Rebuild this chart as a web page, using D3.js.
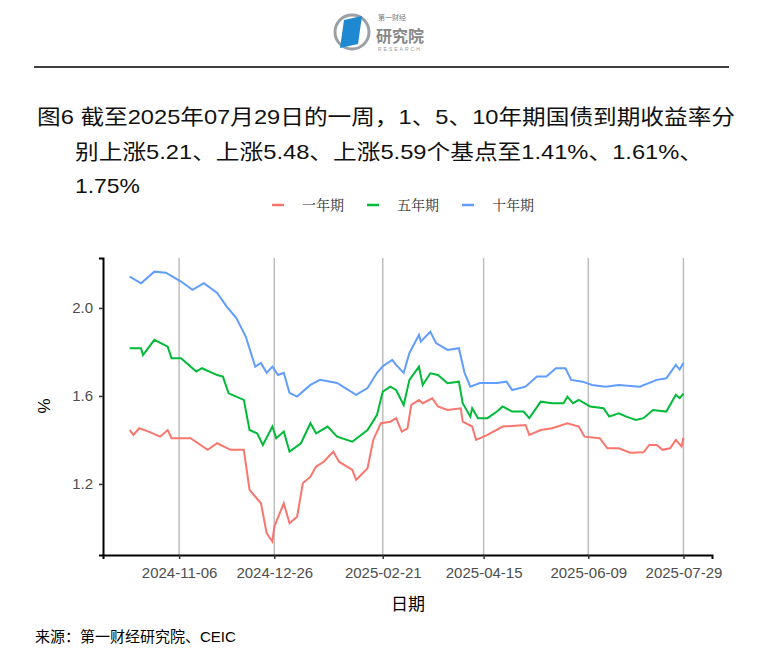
<!DOCTYPE html>
<html>
<head>
<meta charset="utf-8">
<script src="https://cdn.jsdelivr.net/npm/d3@7"></script>
<style>
  body { margin: 0; background: #fff; }
  text { font-family: "Liberation Sans", Arial, sans-serif; }
</style>
</head>
<body>
<svg id="chart" width="784" height="670"></svg>
<script>
// day offsets are counted from 2024-11-06
const baseDate = new Date(2024, 10, 6);
const tickLabels = ['2024-11-06', '2024-12-26', '2025-02-21', '2025-04-15', '2025-06-09', '2025-07-29'];
const yTicks = [1.2, 1.6, 2.0];

const oneYear = [[-26,1.445],[-24,1.423],[-21,1.453],[-16,1.438],[-10,1.415],[-6,1.445],[-4,1.408],[6,1.408],[15,1.355],[20,1.385],[27,1.355],[34,1.355],[37,1.173],[43,1.112],[46,0.976],[49,0.938],[50,1.006],[55,1.112],[58,1.021],[62,1.051],[65,1.203],[69,1.233],[72,1.279],[76,1.301],[81,1.347],[84,1.301],[91,1.264],[93,1.218],[99,1.271],[102,1.4],[106,1.476],[111,1.483],[114,1.499],[117,1.438],[120,1.453],[122,1.559],[126,1.582],[128,1.567],[133,1.589],[136,1.552],[141,1.536],[148,1.544],[149,1.483],[154,1.461],[156,1.4],[162,1.423],[170,1.461],[182,1.468],[184,1.423],[190,1.445],[196,1.453],[204,1.476],[210,1.461],[213,1.415],[221,1.408],[225,1.362],[231,1.362],[237,1.342],[244,1.344],[247,1.377],[251,1.377],[254,1.355],[258,1.362],[261,1.4],[264,1.37],[265,1.41]];
const fiveYear = [[-26,1.817],[-20,1.817],[-19,1.786],[-13,1.855],[-6,1.824],[-4,1.771],[1,1.771],[9,1.711],[12,1.726],[20,1.695],[23,1.688],[26,1.612],[34,1.582],[37,1.445],[41,1.43],[44,1.377],[49,1.461],[51,1.408],[55,1.438],[58,1.347],[64,1.385],[69,1.476],[72,1.43],[78,1.461],[83,1.415],[91,1.392],[99,1.445],[104,1.514],[107,1.62],[111,1.642],[114,1.627],[118,1.559],[121,1.673],[126,1.733],[128,1.65],[132,1.703],[136,1.695],[141,1.658],[147,1.665],[149,1.567],[153,1.506],[154,1.544],[157,1.499],[162,1.499],[167,1.529],[170,1.552],[175,1.529],[181,1.529],[184,1.499],[190,1.574],[196,1.567],[202,1.567],[204,1.597],[207,1.567],[210,1.582],[216,1.552],[223,1.544],[226,1.506],[231,1.521],[235,1.506],[240,1.491],[244,1.499],[249,1.536],[256,1.529],[261,1.605],[263,1.59],[265,1.61]];
const tenYear = [[-26,2.142],[-20,2.112],[-13,2.165],[-7,2.16],[1,2.12],[7,2.082],[13,2.113],[20,2.068],[25,2.006],[30,1.955],[35,1.87],[40,1.733],[43,1.75],[46,1.705],[49,1.733],[52,1.695],[55,1.705],[58,1.614],[62,1.597],[69,1.65],[74,1.673],[83,1.659],[93,1.605],[99,1.636],[104,1.705],[107,1.735],[112,1.764],[114,1.741],[118,1.705],[121,1.795],[126,1.877],[127,1.847],[132,1.892],[135,1.84],[141,1.809],[147,1.817],[150,1.705],[153,1.642],[158,1.659],[167,1.659],[172,1.665],[175,1.627],[182,1.642],[188,1.688],[193,1.688],[198,1.726],[203,1.726],[206,1.673],[212,1.665],[217,1.65],[224,1.642],[231,1.65],[242,1.642],[251,1.673],[256,1.68],[261,1.741],[263,1.72],[265,1.75]];

const seriesNames = ['一年期', '五年期', '十年期'];
const seriesColors = ['#f8766d', '#00ba38', '#619cff'];
const seriesData = [oneYear, fiveYear, tenYear];

const svg = d3.select('#chart');
const CJK = '"Noto Sans CJK SC", sans-serif';
const MIX = '"Liberation Sans", "Noto Sans CJK SC", sans-serif';

// logo
const logo = svg.append('g').attr('transform', 'translate(352,32)');
logo.append('circle').attr('r', 17).attr('fill', 'none').attr('stroke', '#9aa0a6').attr('stroke-width', 3);
logo.append('path').attr('d', 'M-8,-12 L10,-16 L6,12 L-12,16 Z').attr('fill', '#1e88d0');
logo.append('text').attr('x', 26).attr('y', -12).attr('font-size', 7).attr('fill', '#777').style('font-family', CJK).text('第一财经');
logo.append('text').attr('x', 24).attr('y', 10).attr('font-size', 16).attr('fill', '#888').attr('font-weight', 'bold').style('font-family', CJK).text('研究院');
logo.append('text').attr('x', 26).attr('y', 19).attr('font-size', 5).attr('fill', '#999').attr('letter-spacing', 2).text('RESEARCH');

svg.append('line').attr('x1', 34).attr('x2', 729).attr('y1', 67).attr('y2', 67).attr('stroke', '#000').attr('stroke-width', 1.5);

// title
const title = [
  [37, 124, 698, '图6  截至2025年07月29日的一周，1、5、10年期国债到期收益率分'],
  [75, 159, 628, '别上涨5.21、上涨5.48、上涨5.59个基点至1.41%、1.61%、'],
  [75, 193, 65, '1.75%']
];
title.forEach(([x, y, w, t]) => {
  svg.append('text').attr('x', x).attr('y', y).attr('font-size', 21).attr('fill', '#111')
    .attr('textLength', w).attr('lengthAdjust', 'spacingAndGlyphs')
    .style('font-family', MIX).text(t);
});

// legend
const legend = svg.append('g').attr('transform', 'translate(272,205)');
const legendX = [0, 95, 190];
seriesNames.forEach((name, i) => {
  const g = legend.append('g').attr('transform', `translate(${legendX[i]},0)`);
  g.append('line').attr('x1', 0).attr('x2', 12).attr('stroke', seriesColors[i]).attr('stroke-width', 2.5);
  g.append('text').attr('x', 30).attr('y', 5).attr('font-size', 14).attr('fill', '#333')
    .style('font-family', '"Noto Serif CJK SC", "Noto Sans CJK SC", serif').text(name);
});

// scales
const x = d3.scaleTime()
  .domain([d3.timeDay.offset(baseDate, -40), d3.timeDay.offset(baseDate, 280)])
  .range([103, 712]);
const y = d3.scaleLinear().domain([0.877, 2.227]).range([555, 258]);
const tickDates = tickLabels.map(s => d3.timeParse('%Y-%m-%d')(s));

// grid
svg.append('g').selectAll('line').data(tickDates).join('line')
  .attr('x1', d => x(d)).attr('x2', d => x(d)).attr('y1', 258).attr('y2', 555)
  .attr('stroke', '#bdbdbd').attr('stroke-width', 1.5);

// lines
const line = d3.line().x(d => x(d3.timeDay.offset(baseDate, d[0]))).y(d => y(d[1]));
seriesData.forEach((data, i) => {
  svg.append('path').datum(data).attr('d', line).attr('fill', 'none')
    .attr('stroke', seriesColors[i]).attr('stroke-width', 2);
});

// axes
const xAxis = svg.append('g').attr('transform', 'translate(0,555)')
  .call(d3.axisBottom(x).tickValues(tickDates).tickFormat(d3.timeFormat('%Y-%m-%d')).tickSize(4).tickPadding(8));
const yAxis = svg.append('g').attr('transform', 'translate(103,0)')
  .call(d3.axisLeft(y).tickValues(yTicks).tickFormat(d3.format('.1f')).tickSize(4).tickPadding(6));
[xAxis, yAxis].forEach(a => {
  a.select('.domain').attr('stroke', '#000').attr('stroke-width', 2);
  a.selectAll('.tick line').attr('stroke', '#333').attr('stroke-width', 1.5);
  a.selectAll('.tick text').attr('font-size', 15).attr('fill', '#4d4d4d')
    .style('font-family', '"Liberation Sans", Arial, sans-serif');
});

svg.append('text').attr('x', 408).attr('y', 610).attr('text-anchor', 'middle').attr('font-size', 17)
  .style('font-family', CJK).text('日期');
svg.append('text').attr('transform', 'translate(50,406) rotate(-90)').attr('text-anchor', 'middle')
  .attr('font-size', 17).text('%');
svg.append('text').attr('x', 35).attr('y', 642).attr('font-size', 15)
  .style('font-family', MIX).text('来源：第一财经研究院、CEIC');
</script>
</body>
</html>
